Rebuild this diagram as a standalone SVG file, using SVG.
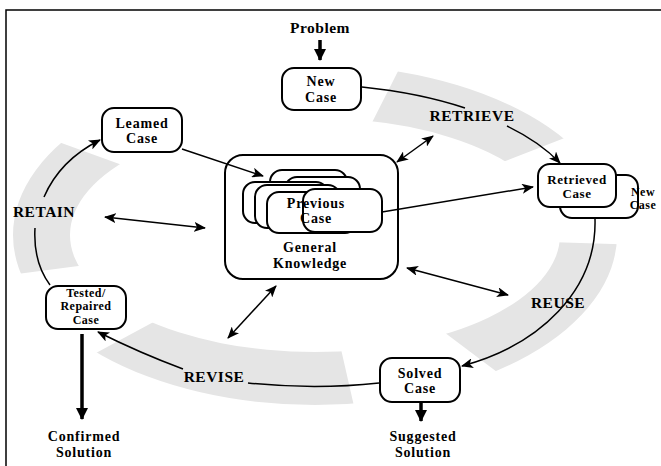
<svg xmlns="http://www.w3.org/2000/svg" width="661" height="466" viewBox="0 0 661 466">
<defs>
<style>
.box{fill:#fff;stroke:#000;stroke-width:2}
.t{font-family:"Liberation Serif","Times New Roman",serif;font-weight:bold;font-size:14px;letter-spacing:0.8px;text-anchor:middle;fill:#000}
.l{font-size:15.5px;letter-spacing:0.5px}
.s{font-size:12px;letter-spacing:0.5px}
.m{font-size:13px;letter-spacing:0.6px}
.c{fill:none;stroke:#000;stroke-width:1.5}
.thick{fill:none;stroke:#000;stroke-width:3.5}
</style>
<marker id="a" markerUnits="userSpaceOnUse" viewBox="0 0 12 10" refX="11" refY="5" markerWidth="12" markerHeight="10" orient="auto-start-reverse">
<path d="M0,0 L12,5 L0,10 L3,5 Z" fill="#000"/>
</marker>
<marker id="b" markerUnits="userSpaceOnUse" viewBox="0 0 12 12" refX="11" refY="6" markerWidth="12" markerHeight="12" orient="auto">
<path d="M0,0 L12,6 L0,12 Z" fill="#000"/>
</marker>
<clipPath id="bands">
<path d="M315,235 L541,-211 L781,54 Z M315,235 L815,250 L715,536 Z M315,235 L426,722 L-125,472 Z M315,235 L-156,64 L-181,300 Z"/>
</clipPath>
</defs>
<g id="frame">
<path d="M6,466 L6,10 L661,10" fill="none" stroke="#000" stroke-width="1.5"/>
</g>
<g id="bands-ring">
<path clip-path="url(#bands)" fill="#e5e5e5" fill-rule="evenodd" d="M13,235 a302,170 0 1,0 604,0 a302,170 0 1,0 -604,0 Z M70,235 a245,117 0 1,0 490,0 a245,117 0 1,0 -490,0 Z"/>
</g>
<g id="labels">
<text class="t l" x="472" y="121">RETRIEVE</text>
<text class="t l" x="558" y="308">REUSE</text>
<text class="t l" x="214" y="382">REVISE</text>
<text class="t l" x="44" y="217">RETAIN</text>
</g>
<g id="problem"><text class="t l" x="320" y="33">Problem</text></g>
<g id="new-case">
<rect class="box" x="282" y="68" width="79" height="42" rx="12"/>
<text class="t" x="321" y="86">New<tspan x="321" dy="15.5">Case</tspan></text>
</g>
<g id="learned-case">
<rect class="box" x="102" y="108" width="80" height="44" rx="12"/>
<text class="t" x="142" y="127.5">Leamed<tspan x="142" dy="15.5">Case</tspan></text>
</g>
<g id="general-knowledge">
<rect class="box" x="225" y="155" width="173" height="124" rx="18"/>
<rect class="box" x="270" y="170" width="77" height="44" rx="12"/>
<rect class="box" x="285" y="177" width="75" height="44" rx="12"/>
<rect class="box" x="243" y="182" width="85" height="41" rx="12"/>
<rect class="box" x="255" y="185" width="85" height="43" rx="12"/>
<rect class="box" x="267" y="192" width="90" height="41" rx="12"/>
<rect class="box" x="303" y="189" width="79" height="43" rx="12"/>
<text class="t" x="316" y="207.5">Previous<tspan x="316" dy="15.5">Case</tspan></text>
<text class="t" x="310" y="252">General<tspan x="310" dy="15.5">Knowledge</tspan></text>
</g>
<g id="retrieved-case">
<rect class="box" x="560" y="175" width="78" height="43" rx="12"/>
<rect class="box" x="538" y="164" width="78" height="43" rx="12"/>
<text class="t m" x="577" y="184">Retrieved<tspan x="577" dy="14.4">Case</tspan></text>
<text class="t s" x="643" y="196">New<tspan x="643" dy="13.3">Case</tspan></text>
</g>
<g id="solved-case">
<rect class="box" x="380" y="358" width="80" height="44" rx="12"/>
<text class="t" x="420" y="377.5">Solved<tspan x="420" dy="15.5">Case</tspan></text>
</g>
<g id="suggested-solution">
<text class="t" x="423" y="441">Suggested<tspan x="423" dy="15.5">Solution</tspan></text>
</g>
<g id="tested-case">
<rect class="box" x="46" y="286" width="80" height="43" rx="12"/>
<text class="t s" x="86" y="297">Tested/<tspan x="86" dy="13.3">Repaired</tspan><tspan x="86" dy="13.3">Case</tspan></text>
</g>
<g id="confirmed-solution">
<text class="t" x="84" y="441">Confirmed<tspan x="84" dy="15.5">Solution</tspan></text>
</g>
<g id="connectors">
<path class="thick" d="M320,40 L320,60" marker-end="url(#b)"/>
<path class="thick" d="M421,403 L421,421" marker-end="url(#b)"/>
<path class="thick" d="M82,334 L82,419" marker-end="url(#b)"/>
<path class="c" d="M362,87 Q420,93 465,108"/>
<path class="c" d="M507,126 Q540,142 560,163" marker-end="url(#a)"/>
<path class="c" d="M595,219 C597,290 540,345 462,366" marker-end="url(#a)"/>
<path class="c" d="M379,383 Q315,390 248,383"/>
<path class="c" d="M183,369 Q140,353 98,332" marker-end="url(#a)"/>
<path class="c" d="M50,285 Q33,262 35,228"/>
<path class="c" d="M44,197 Q60,160 100,140" marker-end="url(#a)"/>
<path class="c" d="M182,149 L263,176" marker-end="url(#a)"/>
<path class="c" d="M382,212 L533,187" marker-end="url(#a)"/>
<path class="c" d="M397,162 L433,136" marker-start="url(#a)" marker-end="url(#a)"/>
<path class="c" d="M105,217 L205,228" marker-start="url(#a)" marker-end="url(#a)"/>
<path class="c" d="M228,338 L276,286" marker-start="url(#a)" marker-end="url(#a)"/>
<path class="c" d="M407,268 L508,295" marker-start="url(#a)" marker-end="url(#a)"/>
</g>
</svg>
